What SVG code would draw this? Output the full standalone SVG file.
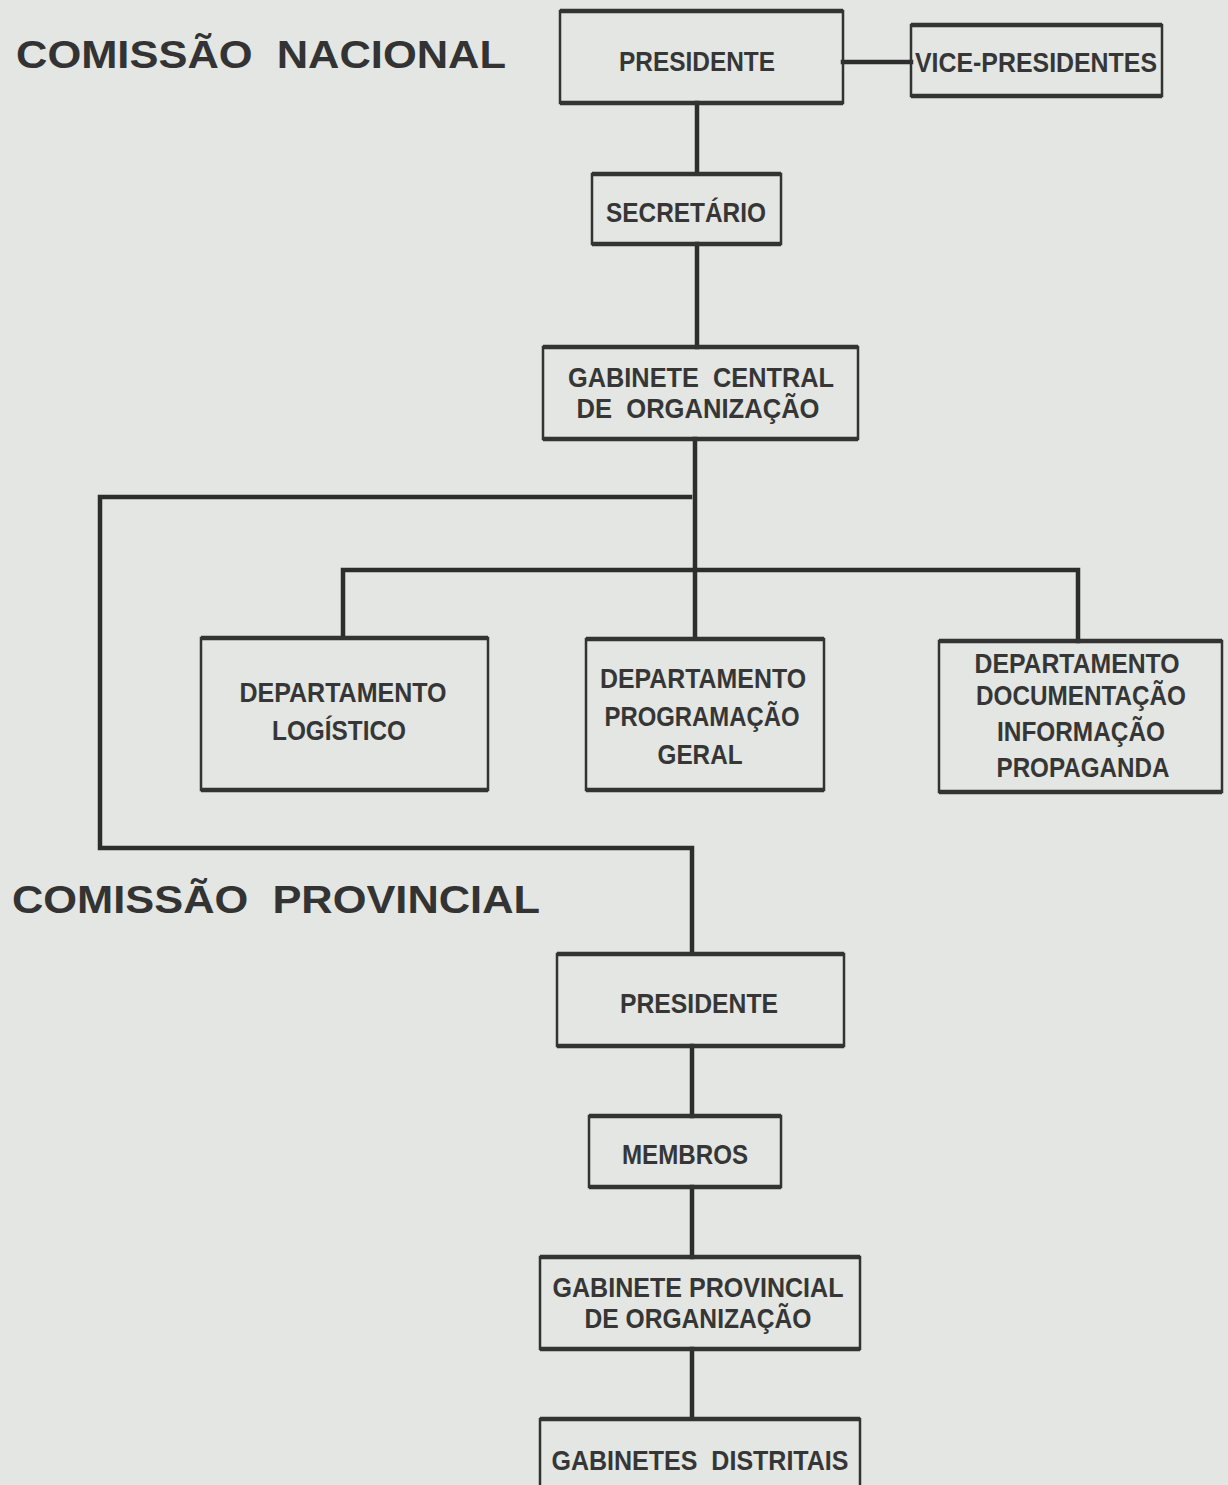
<svg xmlns="http://www.w3.org/2000/svg" width="1228" height="1485" viewBox="0 0 1228 1485">
<defs>
<style>
.bg{fill:#e3e6e2}
.box{fill:none;stroke:#333;stroke-width:2.5}
.edge{stroke:#333;stroke-width:4.5;fill:none}
.con{stroke:#2d2d2d;stroke-width:4.5;fill:none;stroke-linecap:square}
.t{font-family:"Liberation Sans",Arial,sans-serif;font-weight:bold;font-size:28px;fill:#363636;text-anchor:middle}
.title{font-family:"Liberation Sans",Arial,sans-serif;font-weight:bold;font-size:38px;fill:#333}
</style>
</defs>
<rect class="bg" x="0" y="0" width="1228" height="1485"/>

<g id="titles">
<text class="title" x="16" y="68" textLength="490" lengthAdjust="spacingAndGlyphs" xml:space="preserve">COMISSÃO  NACIONAL</text>
<text class="title" x="12" y="913" textLength="528" lengthAdjust="spacingAndGlyphs" xml:space="preserve">COMISSÃO  PROVINCIAL</text>
</g>

<g id="connectors">
<path class="con" d="M843 62 H911"/>
<path class="con" d="M697 103 V173"/>
<path class="con" d="M697 244 V347"/>
<path class="con" d="M695 439 V638"/>
<path class="con" d="M690 497 H100 V848 H692 V953"/>
<path class="con" d="M343 637 V570 H1078 V641"/>
<path class="con" d="M692 1046 V1116"/>
<path class="con" d="M692 1187 V1257"/>
<path class="con" d="M692 1349 V1418"/>
</g>

<g id="n-presidente">
<rect class="box" x="560" y="11" width="283" height="92"/>
<path class="edge" d="M560 11 H843 M560 103 H843"/>
<text class="t" x="697" y="71" textLength="156" lengthAdjust="spacingAndGlyphs">PRESIDENTE</text>
</g>
<g id="n-vice">
<rect class="box" x="911" y="25" width="251" height="71"/>
<path class="edge" d="M911 25 H1162 M911 96 H1162"/>
<text class="t" x="1036" y="72" textLength="242" lengthAdjust="spacingAndGlyphs">VICE-PRESIDENTES</text>
</g>
<g id="n-secretario">
<rect class="box" x="592" y="174" width="189" height="70"/>
<path class="edge" d="M592 174 H781 M592 244 H781"/>
<text class="t" x="686" y="222" textLength="160" lengthAdjust="spacingAndGlyphs">SECRETÁRIO</text>
</g>
<g id="n-gabinete-central">
<rect class="box" x="543" y="347" width="315" height="92"/>
<path class="edge" d="M543 347 H858 M543 439 H858"/>
<text class="t" x="701" y="387" textLength="266" lengthAdjust="spacingAndGlyphs" xml:space="preserve">GABINETE  CENTRAL</text>
<text class="t" x="698" y="418" textLength="243" lengthAdjust="spacingAndGlyphs" xml:space="preserve">DE  ORGANIZAÇÃO</text>
</g>
<g id="n-dep-logistico">
<rect class="box" x="201" y="638" width="287" height="152"/>
<path class="edge" d="M201 638 H488 M201 790 H488"/>
<text class="t" x="343" y="702" textLength="207" lengthAdjust="spacingAndGlyphs">DEPARTAMENTO</text>
<text class="t" x="339" y="740" textLength="134" lengthAdjust="spacingAndGlyphs">LOGÍSTICO</text>
</g>
<g id="n-dep-programacao">
<rect class="box" x="586" y="639" width="238" height="151"/>
<path class="edge" d="M586 639 H824 M586 790 H824"/>
<text class="t" x="703" y="688" textLength="206" lengthAdjust="spacingAndGlyphs">DEPARTAMENTO</text>
<text class="t" x="702" y="726" textLength="195" lengthAdjust="spacingAndGlyphs">PROGRAMAÇÃO</text>
<text class="t" x="700" y="764" textLength="85" lengthAdjust="spacingAndGlyphs">GERAL</text>
</g>
<g id="n-dep-documentacao">
<rect class="box" x="939" y="641" width="283" height="151"/>
<path class="edge" d="M939 641 H1222 M939 792 H1222"/>
<text class="t" x="1077" y="673" textLength="205" lengthAdjust="spacingAndGlyphs">DEPARTAMENTO</text>
<text class="t" x="1081" y="705" textLength="210" lengthAdjust="spacingAndGlyphs">DOCUMENTAÇÃO</text>
<text class="t" x="1081" y="741" textLength="168" lengthAdjust="spacingAndGlyphs">INFORMAÇÃO</text>
<text class="t" x="1083" y="777" textLength="173" lengthAdjust="spacingAndGlyphs">PROPAGANDA</text>
</g>
<g id="n-prov-presidente">
<rect class="box" x="557" y="954" width="287" height="92"/>
<path class="edge" d="M557 954 H844 M557 1046 H844"/>
<text class="t" x="699" y="1013" textLength="158" lengthAdjust="spacingAndGlyphs">PRESIDENTE</text>
</g>
<g id="n-membros">
<rect class="box" x="589" y="1116" width="192" height="71"/>
<path class="edge" d="M589 1116 H781 M589 1187 H781"/>
<text class="t" x="685" y="1164" textLength="126" lengthAdjust="spacingAndGlyphs">MEMBROS</text>
</g>
<g id="n-gabinete-provincial">
<rect class="box" x="540" y="1257" width="320" height="92"/>
<path class="edge" d="M540 1257 H860 M540 1349 H860"/>
<text class="t" x="698" y="1297" textLength="291" lengthAdjust="spacingAndGlyphs">GABINETE PROVINCIAL</text>
<text class="t" x="698" y="1328" textLength="227" lengthAdjust="spacingAndGlyphs">DE ORGANIZAÇÃO</text>
</g>
<g id="n-gabinetes-distritais">
<rect class="box" x="540" y="1419" width="320" height="90"/>
<path class="edge" d="M540 1419 H860"/>
<text class="t" x="700" y="1470" textLength="297" lengthAdjust="spacingAndGlyphs" xml:space="preserve">GABINETES  DISTRITAIS</text>
</g>
</svg>
